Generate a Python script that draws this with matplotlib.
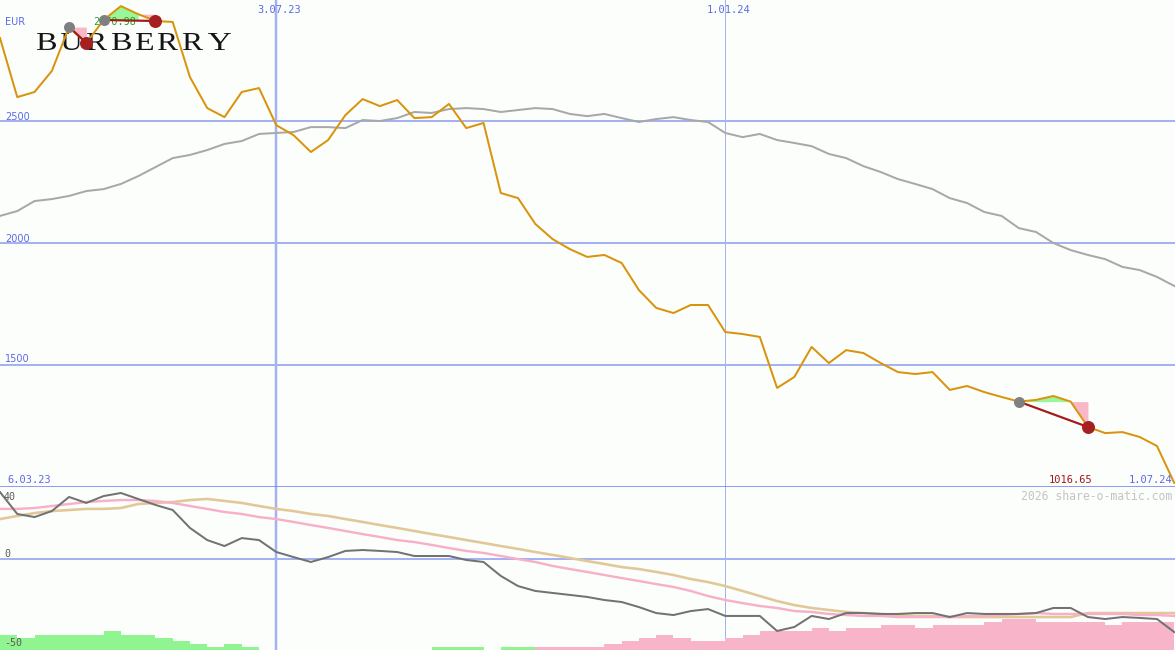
import numpy as np
import pandas as pd
import matplotlib
matplotlib.use("Agg")
import matplotlib.pyplot as plt
import matplotlib.dates as mdates
from matplotlib.textpath import TextPath
from matplotlib.patches import PathPatch
from matplotlib.font_manager import FontProperties
from matplotlib.transforms import Affine2D

W, H = 1175, 650

# ---------------- data ----------------
dates = pd.date_range("2023-03-13", periods=69, freq="7D")

price = [2840, 2598, 2619, 2705, 2885, 2820, 2914, 2971, 2938, 2910,
         2906, 2680, 2553, 2516, 2619, 2635, 2483, 2442, 2373, 2422,
         2524, 2590, 2561, 2586, 2512, 2516, 2570, 2471, 2492, 2205,
         2184, 2078, 2016, 1975, 1943, 1951, 1918, 1807, 1734, 1713,
         1746, 1746, 1635, 1627, 1615, 1406, 1451, 1574, 1508, 1561,
         1549, 1508, 1471, 1463, 1471, 1398, 1414, 1389, 1369, 1350,
         1357, 1373, 1350, 1246, 1221, 1225, 1205, 1168, 1016.65]

avg200 = [2111, 2131, 2172, 2180, 2193, 2213, 2221, 2242, 2274, 2311,
          2348, 2361, 2381, 2406, 2418, 2447, 2451, 2455, 2475, 2475,
          2471, 2504, 2500, 2512, 2537, 2533, 2549, 2553, 2549, 2537,
          2545, 2553, 2549, 2529, 2520, 2529, 2512, 2496, 2508, 2516,
          2504, 2496, 2451, 2434, 2447, 2422, 2410, 2397, 2365, 2348,
          2315, 2291, 2262, 2242, 2221, 2184, 2164, 2127, 2111, 2061,
          2045, 2000, 1971, 1951, 1934, 1902, 1889, 1861, 1824]

osc = [37.2, 25.1, 23.4, 26.7, 34.5, 31.2, 35.0, 36.7, 33.4, 30.1,
       27.3, 17.4, 10.7, 7.4, 11.8, 10.7, 4.1, 1.3, -1.4, 1.3,
       4.7, 5.2, 4.7, 4.1, 1.9, 1.9, 1.9, -0.3, -1.4, -9.1,
       -14.7, -17.4, -18.5, -19.6, -20.7, -22.4, -23.5, -26.3, -29.6, -30.7,
       -28.5, -27.4, -31.2, -31.2, -31.2, -39.5, -37.3, -31.2, -32.9, -29.6,
       -29.6, -30.1, -30.1, -29.6, -29.6, -31.8, -29.6, -30.1, -30.1, -30.1,
       -29.6, -26.8, -26.8, -31.8, -32.9, -31.8, -32.3, -32.9, -40.1]

sig_pink = [27.9, 27.9, 28.4, 29.5, 30.6, 31.7, 32.3, 32.8, 32.8, 32.3,
            31.2, 29.5, 27.9, 26.2, 25.1, 23.4, 22.3, 20.7, 19.0, 17.4,
            15.7, 14.0, 12.4, 10.7, 9.6, 8.0, 6.3, 4.7, 3.6, 1.9,
            0.2, -1.4, -3.6, -5.3, -6.9, -8.6, -10.3, -11.9, -13.6, -15.2,
            -17.4, -20.2, -22.4, -24.1, -25.7, -26.8, -28.5, -29.0, -30.1, -30.7,
            -31.2, -31.2, -31.8, -31.8, -31.8, -31.8, -31.2, -31.2, -30.7, -30.1,
            -29.6, -30.1, -30.1, -30.1, -30.1, -30.1, -30.7, -30.7, -31.2]

sig_tan = [22.3, 24.0, 25.6, 26.7, 27.3, 27.9, 27.9, 28.4, 30.6, 31.2,
           31.7, 32.8, 33.4, 32.3, 31.2, 29.5, 27.9, 26.7, 25.1, 24.0,
           22.3, 20.7, 19.0, 17.4, 15.7, 14.0, 12.4, 10.7, 9.1, 7.4,
           5.8, 4.1, 2.5, 0.8, -0.9, -2.5, -4.2, -5.3, -6.9, -8.6,
           -10.8, -12.5, -14.7, -17.4, -20.2, -23.0, -25.2, -26.8, -27.9, -29.0,
           -29.6, -30.1, -30.7, -31.2, -31.2, -31.8, -31.8, -31.8, -31.8, -31.8,
           -31.8, -31.8, -31.8, -29.6, -29.6, -29.6, -29.6, -29.6, -29.6]

hist = [8.3, 6.6, 8.3, 8.3, 8.3, 8.3, 10.5, 8.3, 8.3, 6.6,
        5.0, 3.3, 1.7, 3.3, 1.7, 0, 0, 0, 0, 0,
        0, 0, 0, 0, 0, 1.7, 1.7, 1.7, 0, 1.7,
        1.7, -1.7, -1.7, -1.7, -1.7, -3.3, -5.0, -6.6, -8.3, -6.6,
        -5.0, -5.0, -6.6, -8.3, -10.5, -10.5, -10.5, -12.1, -10.5, -12.1,
        -12.1, -13.8, -13.8, -12.1, -13.8, -13.8, -13.8, -15.5, -17.1, -17.1,
        -15.5, -15.5, -15.5, -15.5, -13.8, -15.5, -15.5, -15.5]

signal_start = [4, 6, 59]
signal_end = [5, 9, 63]

price_levels = [1500, 2000, 2500]
price_level_labels = ["1500", "2000", "2500"]
date_marks = ["2023-07-03", "2024-01-01"]
date_mark_labels = ["3.07.23", "1.01.24"]
first_date_label = "6.03.23"
last_date_label = "1.07.24"
last_price_label = "1016.65"
high_label = "2970.98"
osc_labels = ["40", "0", "-50"]
logo_text = "BURBERRY"

# ---------------- style ----------------
BG = "#fcfefc"
GRID = "#a4b2f2"
GRID_DARK = "#7484f0"
BLUE_TXT = "#5a6ae6"
PRICE_C = "#d8940c"
AVG_C = "#a8a8a8"

fig = plt.figure(figsize=(W / 100, H / 100), dpi=100)
fig.patch.set_facecolor(BG)
split = 487 / H
ax = fig.add_axes([0, 1 - split, 1, split])
ax2 = fig.add_axes([0, 0, 1, 1 - split])

x = mdates.date2num(dates)
xl = (x[0], x[0] + 476.3)
for a in (ax, ax2):
    a.set_facecolor(BG)
    a.set_xlim(*xl)
    for s in a.spines.values():
        s.set_visible(False)
    a.set_xticks([])
    a.set_yticks([])

px = 0.72  # points per pixel
ax.set_ylim(1000, 2996)
ax2.set_ylim(-50, 40)

# grid lines
for lv in price_levels:
    ax.axhline(lv, color=GRID, lw=2 * px, zorder=1)
ax.axhline(1000, color=GRID_DARK, lw=2.6 * px, zorder=6)
ax2.axhline(0, color=GRID, lw=2 * px, zorder=1)
for d, w in zip(date_marks, [2.5, 1.0]):
    dn = mdates.date2num(pd.Timestamp(d))
    ax.axvline(dn, color=GRID, lw=w * px, zorder=1)
    ax2.axvline(dn, color=GRID, lw=w * px, zorder=1)

# logo: letters fitted into pixel boxes, drawn under the data lines
logo_boxes = [(37, 56), (61, 82), (87, 107), (112, 131), (136, 153),
              (158, 178), (183, 203), (208, 231)]
logo_top, logo_base = 33, 50
fp = FontProperties(family="Liberation Serif")
for ch, (l, r) in zip(logo_text, logo_boxes):
    tp = TextPath((0, 0), ch, size=100, prop=fp)
    ext = tp.get_extents()
    sx = (r - l) / ext.width
    sy = (logo_base - logo_top) / ext.height
    tr = (Affine2D().translate(-ext.x0, -ext.y0).scale(sx, sy)
          .translate(l, H - logo_base).scale(1 / W, 1 / H) + fig.transFigure)
    ax.add_patch(PathPatch(tp, transform=tr, facecolor="#151515",
                           edgecolor="none", zorder=2))

# main lines
ax.plot(x, avg200, color=AVG_C, lw=2 * px, zorder=3)

# signal fills
price_a = np.array(price)
for s, e in zip(signal_start, signal_end):
    lvl = price_a[s]
    if e - 1 > s:
        xs = x[s:e]
        ys = price_a[s:e]
        ax.fill_between(xs, lvl, ys, where=ys >= lvl, interpolate=True,
                        color="#98f898", lw=0, zorder=2.5)
    ax.fill_between(x[e - 1:e + 1], price_a[e - 1], price_a[e - 1:e + 1],
                    color="#f8b8c8", lw=0, zorder=2.5)

# high label (under markers)
ax.text(93 / W, 1 - 25 / H, high_label, ha="left", va="baseline",
        transform=fig.transFigure, family="DejaVu Sans Mono", fontsize=7.3,
        color="#22a022", zorder=2.6)

ax.plot(x, price, color=PRICE_C, lw=2 * px, zorder=4)

for s, e in zip(signal_start, signal_end):
    ax.plot([x[s], x[e]], [price_a[s], price_a[e]], color="#a51a1a",
            lw=2.2 * px, zorder=5)
    ax.plot([x[s]], [price_a[s]], "o", color="#808080", ms=11 * px,
            mew=0, zorder=5.5)
    ax.plot([x[e]], [price_a[e]], "o", color="#a52020", ms=13 * px,
            mew=0, zorder=5.5)

# lower panel
hv = np.array(hist)
bar_colors = ["#90f490" if v >= 0 else "#f8b4c8" for v in hv]
ax2.bar(x[:-1], np.abs(hv), width=7, bottom=-50, align="edge",
        color=bar_colors, lw=0, zorder=2)
ax2.plot(x, sig_tan, color="#e2c898", lw=2.6 * px, zorder=3)
ax2.plot(x, sig_pink, color="#f8b0c8", lw=2.4 * px, zorder=3.5)
ax2.plot(x, osc, color="#727272", lw=2 * px, zorder=4)

# texts
def T(xp, yp, s, **kw):
    fig.text(xp / W, 1 - yp / H, s, va="baseline", **kw)

T(5, 25, "EUR", ha="left", family="DejaVu Sans", fontsize=7, color=BLUE_TXT)
for lab, yb in zip(price_level_labels, [362, 242, 120]):
    T(5, yb, lab, ha="left", family="DejaVu Sans", fontsize=7, color=BLUE_TXT)
for lab, d in zip(date_mark_labels, date_marks):
    dn = mdates.date2num(pd.Timestamp(d))
    xp = (dn - xl[0]) / (xl[1] - xl[0]) * W + 3
    T(xp, 13, lab, ha="center", family="DejaVu Sans Mono", fontsize=7.5,
      color=BLUE_TXT)
T(7, 483, first_date_label, ha="left", family="DejaVu Sans Mono",
  fontsize=7.5, color=BLUE_TXT)
T(1172, 483, last_date_label, ha="right", family="DejaVu Sans Mono",
  fontsize=7.5, color=BLUE_TXT)
T(1092, 483, last_price_label, ha="right", family="DejaVu Sans Mono",
  fontsize=7.5, color="#a01818")
T(1172, 500, "2026 share-o-matic.com", ha="right", family="DejaVu Sans Mono",
  fontsize=8.3, color="#c4c4c4")
for lab, yb in zip(osc_labels, [500, 557, 646]):
    T(4, yb, lab, ha="left", family="DejaVu Sans Mono", fontsize=7.2,
      color="#5a5a5a")

fig.savefig("out.png", dpi=100, facecolor=BG)
